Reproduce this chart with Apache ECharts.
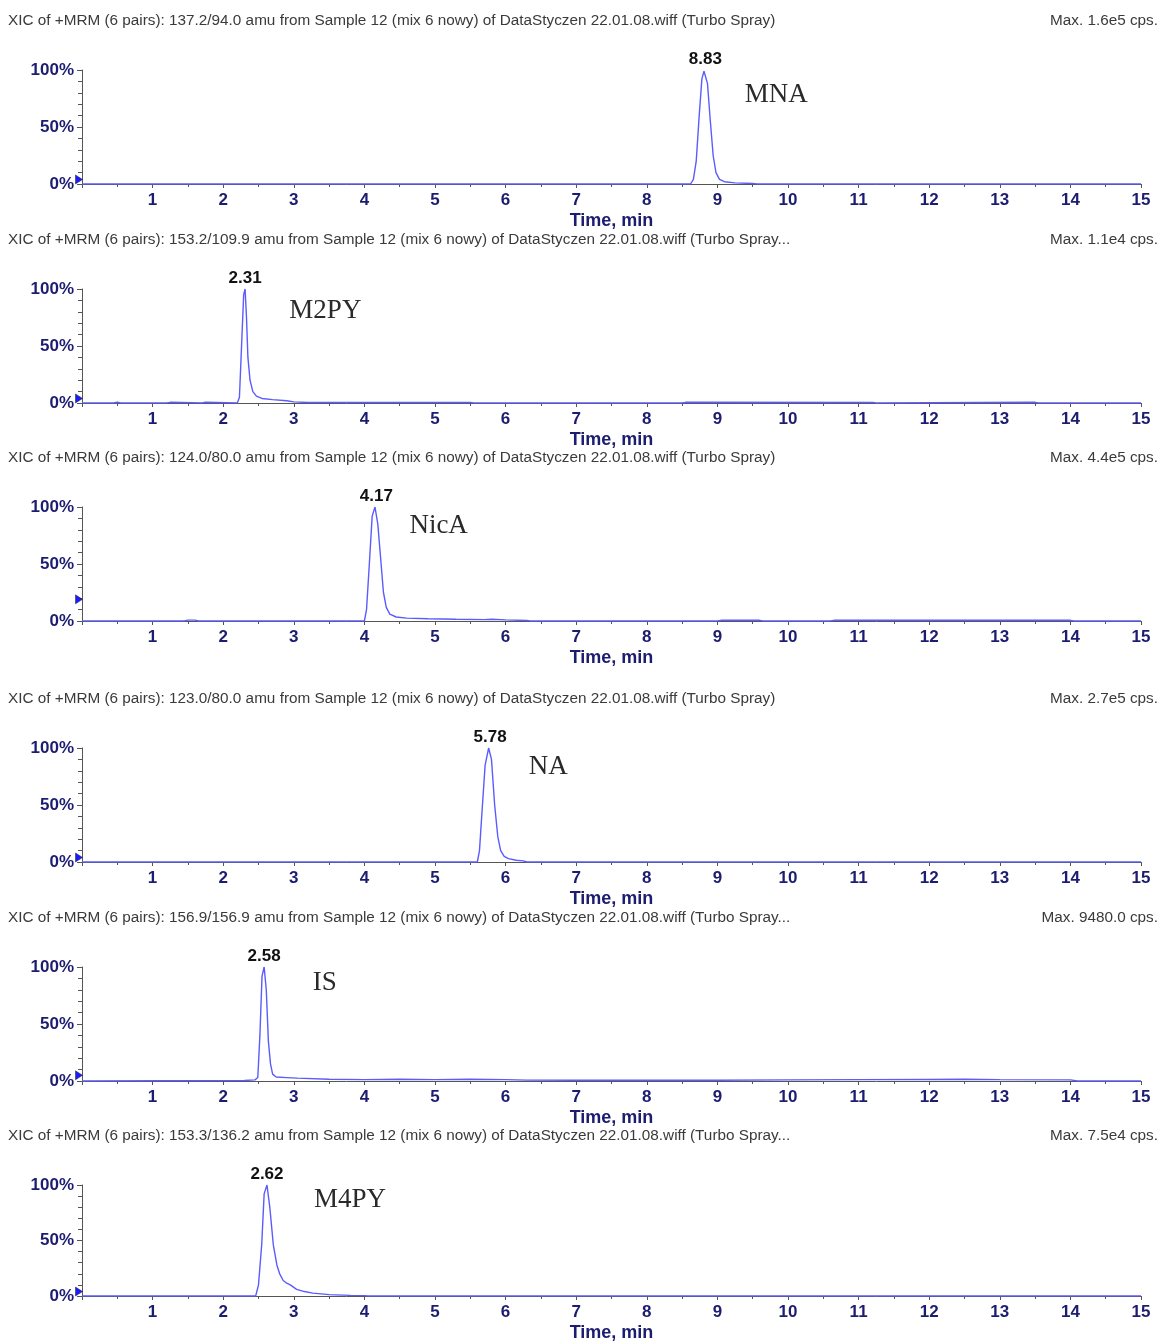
<!DOCTYPE html>
<html>
<head>
<meta charset="utf-8">
<script src="https://cdn.jsdelivr.net/npm/echarts@6/dist/echarts.min.js"></script>
<style>
html,body{margin:0;padding:0;background:#fff;}
#chart{width:1161px;height:1343px;}
</style>
</head>
<body>
<div id="chart"></div>
<script>
// ---- Data ----
const titlesLeft = [
  "XIC of +MRM (6 pairs): 137.2/94.0 amu from Sample 12 (mix 6 nowy) of DataStyczen 22.01.08.wiff (Turbo Spray)",
  "XIC of +MRM (6 pairs): 153.2/109.9 amu from Sample 12 (mix 6 nowy) of DataStyczen 22.01.08.wiff (Turbo Spray...",
  "XIC of +MRM (6 pairs): 124.0/80.0 amu from Sample 12 (mix 6 nowy) of DataStyczen 22.01.08.wiff (Turbo Spray)",
  "XIC of +MRM (6 pairs): 123.0/80.0 amu from Sample 12 (mix 6 nowy) of DataStyczen 22.01.08.wiff (Turbo Spray)",
  "XIC of +MRM (6 pairs): 156.9/156.9 amu from Sample 12 (mix 6 nowy) of DataStyczen 22.01.08.wiff (Turbo Spray...",
  "XIC of +MRM (6 pairs): 153.3/136.2 amu from Sample 12 (mix 6 nowy) of DataStyczen 22.01.08.wiff (Turbo Spray..."
];
const titlesRight = ["Max. 1.6e5 cps.", "Max. 1.1e4 cps.", "Max. 4.4e5 cps.", "Max. 2.7e5 cps.", "Max. 9480.0 cps.", "Max. 7.5e4 cps."];
const compounds = ["MNA", "M2PY", "NicA", "NA", "IS", "M4PY"];
const peakTimes = [8.83, 2.31, 4.17, 5.78, 2.58, 2.62];
const xTicks = [1,2,3,4,5,6,7,8,9,10,11,12,13,14,15];
const yTicks = [0, 50, 100];

// compound label anchor (time, %) and left-edge marker level (%)
const nameAnchorT = [9.38, 2.93, 4.63, 6.32, 3.26, 3.28];
const nameAnchorY = [78, 81, 83, 83, 86, 87];
const markerLevel = [4, 4, 19, 4, 5, 4];

// traces: time (min) and relative intensity (%)
const mnaT = [0, 8.62, 8.66, 8.70, 8.74, 8.78, 8.81, 8.83, 8.86, 8.90, 8.94, 8.98, 9.03, 9.10, 9.25, 9.50, 9.56, 15];
const mnaY = [0, 0, 4, 20, 58, 92, 99, 100, 88, 55, 25, 10, 4, 2, 1, 0.5, 0, 0];

const m2pyT = [0, 0.45, 0.5, 0.55, 1.2, 1.25, 1.7, 1.75, 2.20, 2.23, 2.26, 2.29, 2.31, 2.33, 2.35, 2.38, 2.42, 2.47, 2.55, 2.70, 2.90, 3.00, 3.20, 5.5, 5.55, 8.5, 8.55, 11.2, 11.25, 13.5, 13.55, 15];
const m2pyY = [0, 0, 0.7, 0, 0, 0.6, 0, 0.7, 0, 5, 50, 95, 100, 75, 40, 20, 10, 6, 4, 3, 2, 1, 0.5, 0.5, 0, 0, 0.6, 0.5, 0, 0.6, 0, 0];

const nicaT = [0, 1.45, 1.5, 1.6, 1.65, 4.00, 4.03, 4.07, 4.11, 4.15, 4.19, 4.23, 4.27, 4.31, 4.36, 4.45, 4.60, 4.90, 5.30, 5.70, 5.80, 6.00, 6.30, 6.35, 9.0, 9.05, 9.6, 9.65, 10.6, 10.65, 14.0, 14.05, 15];
const nicaY = [0, 0, 0.8, 0.8, 0, 0, 10, 50, 92, 100, 85, 55, 25, 12, 6, 3.5, 2.5, 2, 1.5, 1.2, 1.5, 1, 0.5, 0, 0, 0.6, 0.6, 0, 0, 0.6, 0.6, 0, 0];

const naT = [0, 5.60, 5.63, 5.67, 5.71, 5.76, 5.80, 5.845, 5.89, 5.93, 5.98, 6.04, 6.15, 6.25, 6.30, 15];
const naY = [0, 0, 10, 48, 85, 100, 90, 50, 22, 10, 5, 3, 1.5, 1, 0, 0];

const isT = [0, 2.30, 2.45, 2.49, 2.52, 2.55, 2.58, 2.61, 2.64, 2.67, 2.70, 2.75, 2.90, 3.05, 3.50, 4.0, 4.5, 5.0, 5.5, 6.0, 6.3, 7.0, 8.0, 9.0, 10.0, 11.0, 12.0, 12.5, 13.0, 14.0, 14.1, 15];
const isY = [0, 0.5, 1, 3, 40, 92, 100, 80, 35, 15, 6, 3.5, 3, 2.5, 1.5, 1.2, 1.5, 1.2, 1.5, 1.2, 0.8, 0.6, 0.8, 0.7, 1.0, 1.2, 1.3, 1.5, 1.2, 1.0, 0, 0];

const m4pyT = [0, 2.46, 2.50, 2.545, 2.58, 2.62, 2.66, 2.71, 2.76, 2.80, 2.85, 2.90, 2.95, 3.04, 3.15, 3.27, 3.50, 3.80, 4.00, 4.05, 15];
const m4pyY = [0, 0, 10, 46, 92, 100, 80, 46, 28, 20, 14, 11.5, 10, 6, 4, 2.6, 1.2, 0.6, 0.3, 0, 0];

const traceT = [mnaT, m2pyT, nicaT, naT, isT, m4pyT];
const traceY = [mnaY, m2pyY, nicaY, naY, isY, m4pyY];

// ---- Layout ----
const gridTops = [70, 289, 507, 748, 967, 1185];
const gridH = 114;
const navy = '#1c1c70';
const lineBlue = '#5b5bff';
const sans = 'Liberation Sans, Arial, sans-serif';

const chart = echarts.init(document.getElementById('chart'), null, {renderer: 'canvas'});

const grids = [], xAxes = [], yAxes = [], series = [], titles = [];
for (let i = 0; i < 6; i++) {
  grids.push({left: 82, right: 20, top: gridTops[i], height: gridH, containLabel: false});
  titles.push({
    text: titlesLeft[i], left: 8, top: gridTops[i] - 57, padding: 0,
    textStyle: {fontFamily: sans, fontSize: 15.3, fontWeight: 'normal', color: '#3a3a3a'}
  });
  titles.push({
    text: titlesRight[i], right: 3, top: gridTops[i] - 57, padding: 0,
    textStyle: {fontFamily: sans, fontSize: 15.3, fontWeight: 'normal', color: '#3a3a3a'}
  });
  xAxes.push({
    type: 'value', gridIndex: i, min: 0, max: 15, interval: 1,
    axisLine: {show: true, lineStyle: {color: '#555', width: 1}},
    axisTick: {show: true, length: 4, lineStyle: {color: '#555'}},
    minorTick: {show: true, splitNumber: 2, length: 3, lineStyle: {color: '#555'}},
    splitLine: {show: false},
    axisLabel: {
      margin: 8, color: navy, fontFamily: sans, fontSize: 17, fontWeight: 'bold',
      formatter: v => (xTicks.indexOf(v) >= 0 ? String(v) : '')
    },
    name: 'Time, min', nameLocation: 'middle', nameGap: 28,
    nameTextStyle: {color: navy, fontFamily: sans, fontSize: 18, fontWeight: 'bold'}
  });
  yAxes.push({
    type: 'value', gridIndex: i, min: 0, max: 100, interval: 50,
    axisLine: {show: true, lineStyle: {color: '#555', width: 1}},
    axisTick: {show: true, length: 5, lineStyle: {color: '#555'}},
    minorTick: {show: true, splitNumber: 5, length: 4, lineStyle: {color: '#555'}},
    splitLine: {show: false},
    axisLabel: {
      margin: 8, color: navy, fontFamily: sans, fontSize: 17, fontWeight: 'bold',
      formatter: v => (yTicks.indexOf(v) >= 0 ? v + '%' : '')
    }
  });
  const data = traceT[i].map((t, k) => [t, traceY[i][k]]);
  series.push({
    type: 'line', xAxisIndex: i, yAxisIndex: i, data: data,
    showSymbol: false, symbol: 'none', smooth: false, animation: false,
    lineStyle: {color: lineBlue, width: 1.4},
    z: 3,
    markPoint: {
      animation: false,
      data: [
        {
          coord: [peakTimes[i], 100], symbol: 'circle', symbolSize: 1,
          itemStyle: {color: 'rgba(0,0,0,0)'},
          label: {show: true, position: 'top', distance: 2, formatter: peakTimes[i].toFixed(2),
            color: '#111', fontFamily: sans, fontSize: 17, fontWeight: 'bold'}
        },
        {
          coord: [nameAnchorT[i], nameAnchorY[i]], symbol: 'circle', symbolSize: 1,
          itemStyle: {color: 'rgba(0,0,0,0)'},
          label: {show: true, position: 'right', distance: 0, formatter: compounds[i],
            color: '#2a2a2a', fontFamily: 'Liberation Serif, Times New Roman, serif', fontSize: 27}
        },
        {
          coord: [0, markerLevel[i]], symbol: 'triangle', symbolSize: [9, 7], symbolRotate: -90,
          symbolOffset: [-3, 0],
          itemStyle: {color: '#1a1aff', borderColor: '#222', borderWidth: 0.5},
          label: {show: false}
        }
      ]
    }
  });
}

chart.setOption({
  backgroundColor: '#fff',
  animation: false,
  title: titles,
  grid: grids,
  xAxis: xAxes,
  yAxis: yAxes,
  series: series
});
</script>
</body>
</html>
